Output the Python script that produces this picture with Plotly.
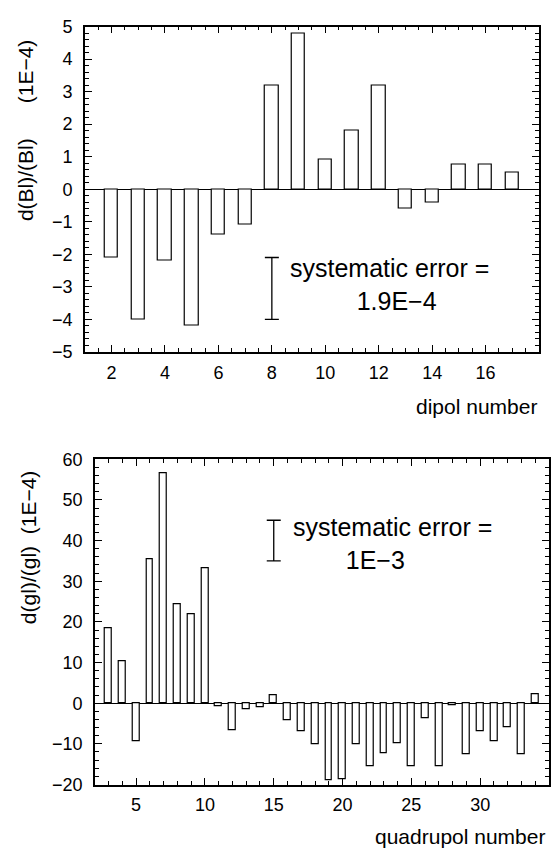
import plotly.graph_objects as go

# ---------------- data ----------------
dipol_numbers = list(range(2, 18))
dipol_values = [-2.1, -4.0, -2.2, -4.2, -1.4, -1.1, 3.2, 4.8, 0.9, 1.8, 3.2, -0.6, -0.4, 0.75, 0.75, 0.5]

quad_numbers = list(range(3, 35))
quad_values = [18.4, 10.2, -9.4, 35.4, 56.6, 24.4, 21.8, 33.2, -0.8, -6.6, -1.4, -1.0, 2.0,
               -4.2, -6.9, -10.2, -19.0, -18.6, -10.0, -15.6, -12.4, -9.8, -15.4, -3.6,
               -15.4, -0.6, -12.6, -7.0, -9.4, -5.8, -12.6, 2.2]

# systematic error bars (low, high) and position
dipol_err_x = [8]
dipol_err_low = -4.0
dipol_err_high = -2.1
quad_err_x = [15]
quad_err_low = 35
quad_err_high = 45

dipol_tickvals = [2, 4, 6, 8, 10, 12, 14, 16]
dipol_yticks = [-5, -4, -3, -2, -1, 0, 1, 2, 3, 4, 5]
quad_tickvals = [5, 10, 15, 20, 25, 30]
quad_yticks = [-20, -10, 0, 10, 20, 30, 40, 50, 60]

W, H = 551, 858
FONT = "Liberation Sans"

fig = go.Figure()

fig.add_trace(go.Bar(x=dipol_numbers, y=dipol_values, width=0.5,
                     marker=dict(color="white", line=dict(color="black", width=1.2)),
                     xaxis="x", yaxis="y", showlegend=False))
fig.add_trace(go.Bar(x=quad_numbers, y=quad_values, width=0.5,
                     marker=dict(color="white", line=dict(color="black", width=1.2)),
                     xaxis="x2", yaxis="y2", showlegend=False))

# error bars
dm = (dipol_err_low + dipol_err_high) / 2
fig.add_trace(go.Scatter(x=dipol_err_x, y=[dm], mode="markers",
                         marker=dict(size=1, color="rgba(0,0,0,0)"),
                         error_y=dict(type="data", array=[dipol_err_high - dm], color="black",
                                      thickness=1.3, width=7),
                         xaxis="x", yaxis="y", showlegend=False))
qm = (quad_err_low + quad_err_high) / 2
fig.add_trace(go.Scatter(x=quad_err_x, y=[qm], mode="markers",
                         marker=dict(size=1, color="rgba(0,0,0,0)"),
                         error_y=dict(type="data", array=[quad_err_high - qm], color="black",
                                      thickness=1.3, width=7),
                         xaxis="x2", yaxis="y2", showlegend=False))

common_axis = dict(showline=True, linecolor="black", linewidth=1.5, mirror="allticks",
                   ticks="inside", ticklen=7, tickwidth=1.2, tickcolor="black",
                   showgrid=False, zeroline=False,
                   tickfont=dict(family=FONT, size=18, color="black"))

fig.update_layout(
    width=W, height=H,
    margin=dict(l=0, r=0, t=0, b=0),
    paper_bgcolor="white", plot_bgcolor="white",
    bargap=0,
    xaxis=dict(domain=[85 / W, 540 / W], range=[1, 18], anchor="y",
               tickvals=dipol_tickvals, ticklabelstandoff=4,
               minor=dict(dtick=0.5, tick0=0, ticks="inside", ticklen=4, tickcolor="black", tickwidth=1),
               **common_axis),
    yaxis=dict(domain=[1 - 350 / H, 1 - 17 / H], range=[-5, 5], anchor="x",
               tickvals=dipol_yticks, ticklabelstandoff=7,
               minor=dict(dtick=0.2, tick0=0, ticks="inside", ticklen=4, tickcolor="black", tickwidth=1),
               **common_axis),
    xaxis2=dict(domain=[95 / W, 550 / W], range=[2, 35], anchor="y2",
                tickvals=quad_tickvals, ticklabelstandoff=3,
                minor=dict(dtick=1, tick0=0, ticks="inside", ticklen=4, tickcolor="black", tickwidth=1),
                **common_axis),
    yaxis2=dict(domain=[1 - 793 / H, 1 - 460 / H], range=[-20, 60], anchor="x2",
                tickvals=quad_yticks, ticklabelstandoff=7,
                minor=dict(dtick=2, tick0=0, ticks="inside", ticklen=4, tickcolor="black", tickwidth=1),
                **common_axis),
)
fig.update_yaxes(zeroline=True, zerolinecolor="black", zerolinewidth=1.3)

ann_font = dict(family=FONT, size=25, color="black")
lab_font = dict(family=FONT, size=21, color="black")
title_font = dict(family=FONT, size=21, color="black")
NB = "\u00a0"

annotations = [
    dict(text="systematic error =<br>" + NB * 2 + "1.9E\u22124", x=12.42, y=-2.93, xref="x", yref="y",
         showarrow=False, font=ann_font, xanchor="center", yanchor="middle", align="center"),
    dict(text="systematic error =<br>1E\u22123" + NB * 5, x=23.65, y=39.3, xref="x2", yref="y2",
         showarrow=False, font=ann_font, xanchor="center", yanchor="middle", align="center"),
    dict(text="dipol number", x=540 / W, y=1 - 406 / H, xref="paper", yref="paper",
         showarrow=False, font=lab_font, xanchor="right", yanchor="middle"),
    dict(text="quadrupol number", x=548 / W, y=1 - 846 / H, xref="paper", yref="paper",
         showarrow=False, font=lab_font, xanchor="right", yanchor="middle"),
    dict(text="d(Bl)/(Bl)      (1E\u22124)", x=25 / W, y=1 - 123 / H, xref="paper", yref="paper",
         showarrow=False, font=title_font, textangle=-90, xanchor="center", yanchor="middle"),
    dict(text="d(gl)/(gl)  (1E\u22124)", x=28 / W, y=1 - 550 / H, xref="paper", yref="paper",
         showarrow=False, font=title_font, textangle=-90, xanchor="center", yanchor="middle"),
]
fig.update_layout(annotations=annotations)

fig.write_html("out.html", config={"displayModeBar": False},
               post_script="document.body.style.margin='0';document.body.style.overflow='hidden';")
